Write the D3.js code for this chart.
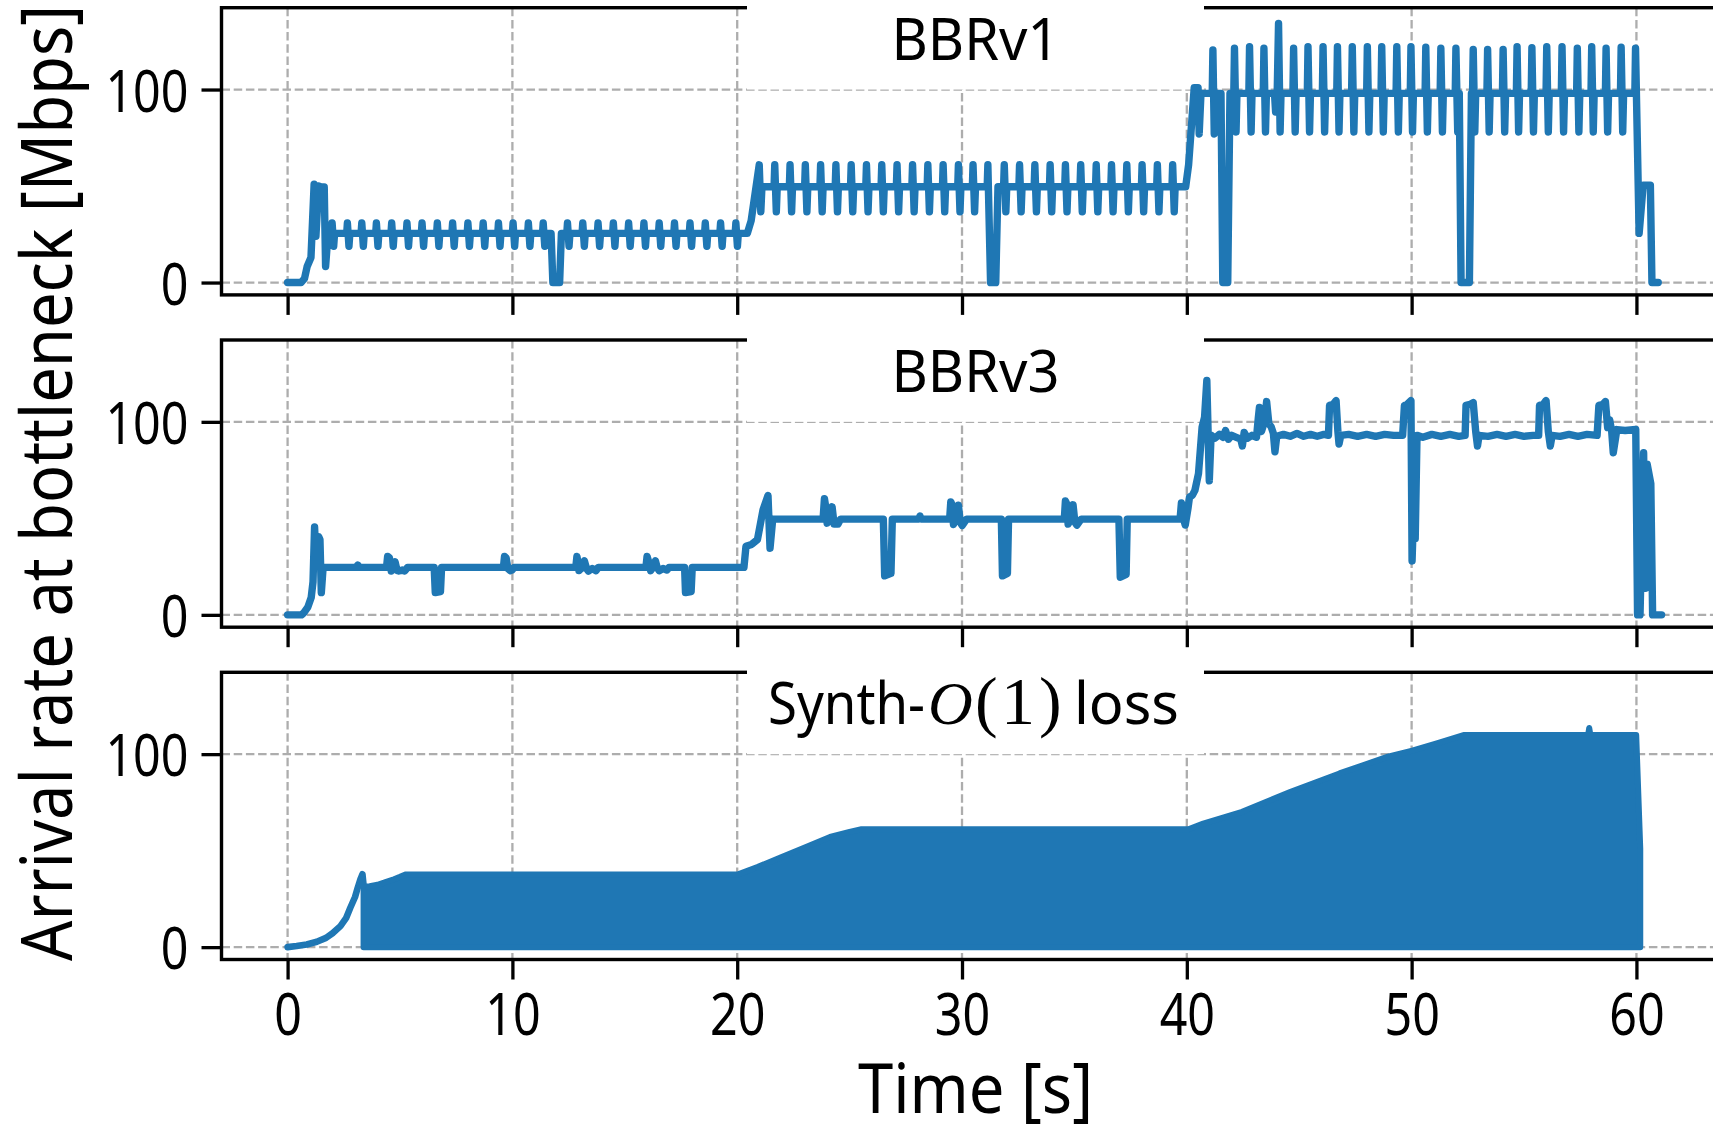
<!DOCTYPE html>
<html>
<head>
<meta charset="utf-8">
<script src="https://cdn.jsdelivr.net/npm/d3@7"></script>
<style>
  html, body { margin: 0; padding: 0; background: #fff; }
  svg { display: block; }
  text { font-family: "Noto Sans", "DejaVu Sans", sans-serif; fill: #000; }
</style>
</head>
<body>
<svg id="chart" width="1713" height="1132"></svg>
<script>
// ---------- data: arrival rate at the bottleneck, [time s, rate Mbps] ----------

const bbrv1 = [
  [0,0],[0.6,0],[0.75,2],[0.87,8.3],[1.04,13],[1.18,51],[1.26,24],[1.38,50],[1.5,49.5],[1.63,49.5],[1.69,8.3],[1.8,25.5],
  [1.95,25.5],[1.98,30.9],[2.05,18.8],[2.09,25.5],
  [2.63,25.5],[2.66,30.9],[2.73,18.8],[2.77,25.5],
  [3.27,25.5],[3.30,30.9],[3.37,18.8],[3.41,25.5],
  [3.92,25.5],[3.95,30.9],[4.02,18.8],[4.06,25.5],
  [4.60,25.5],[4.63,30.9],[4.70,18.8],[4.74,25.5],
  [5.28,25.5],[5.31,30.9],[5.38,18.8],[5.42,25.5],
  [5.95,25.5],[5.98,30.9],[6.05,18.8],[6.09,25.5],
  [6.63,25.5],[6.66,30.9],[6.73,18.8],[6.77,25.5],
  [7.31,25.5],[7.34,30.9],[7.41,18.8],[7.45,25.5],
  [7.99,25.5],[8.02,30.9],[8.09,18.8],[8.13,25.5],
  [8.67,25.5],[8.70,30.9],[8.77,18.8],[8.81,25.5],
  [9.35,25.5],[9.38,30.9],[9.45,18.8],[9.49,25.5],
  [10.00,25.5],[10.03,30.9],[10.10,18.8],[10.14,25.5],
  [10.68,25.5],[10.71,30.9],[10.78,18.8],[10.82,25.5],
  [11.34,25.5],[11.37,30.9],[11.44,18.8],[11.48,25.5],
  [11.72,25.5],[11.80,0],[12.10,0],[12.18,25.5],
  [12.42,25.5],[12.45,30.9],[12.52,18.8],[12.56,25.5],
  [13.10,25.5],[13.13,30.9],[13.20,18.8],[13.24,25.5],
  [13.78,25.5],[13.81,30.9],[13.88,18.8],[13.92,25.5],
  [14.46,25.5],[14.49,30.9],[14.56,18.8],[14.60,25.5],
  [15.14,25.5],[15.17,30.9],[15.24,18.8],[15.28,25.5],
  [15.82,25.5],[15.85,30.9],[15.92,18.8],[15.96,25.5],
  [16.50,25.5],[16.53,30.9],[16.60,18.8],[16.64,25.5],
  [17.18,25.5],[17.21,30.9],[17.28,18.8],[17.32,25.5],
  [17.87,25.5],[17.90,30.9],[17.97,18.8],[18.01,25.5],
  [18.55,25.5],[18.58,30.9],[18.65,18.8],[18.69,25.5],
  [19.23,25.5],[19.26,30.9],[19.33,18.8],[19.37,25.5],
  [19.91,25.5],[19.94,30.9],[20.01,18.8],[20.05,25.5],
  [20.45,25.5],[20.62,32],[20.98,61],[21.05,36.6],[21.10,49.6],
  [21.64,49.6],[21.67,61],[21.74,36.6],[21.78,49.6],
  [22.32,49.6],[22.35,61],[22.42,36.6],[22.46,49.6],
  [23.00,49.6],[23.03,61],[23.10,36.6],[23.14,49.6],
  [23.68,49.6],[23.71,61],[23.78,36.6],[23.82,49.6],
  [24.36,49.6],[24.39,61],[24.46,36.6],[24.50,49.6],
  [25.04,49.6],[25.07,61],[25.14,36.6],[25.18,49.6],
  [25.72,49.6],[25.75,61],[25.82,36.6],[25.86,49.6],
  [26.40,49.6],[26.43,61],[26.50,36.6],[26.54,49.6],
  [27.08,49.6],[27.11,61],[27.18,36.6],[27.22,49.6],
  [27.77,49.6],[27.80,61],[27.87,36.6],[27.91,49.6],
  [28.45,49.6],[28.48,61],[28.55,36.6],[28.59,49.6],
  [29.13,49.6],[29.16,61],[29.23,36.6],[29.27,49.6],
  [29.81,49.6],[29.84,61],[29.91,36.6],[29.95,49.6],
  [30.46,49.6],[30.49,61],[30.56,36.6],[30.60,49.6],
  [31.12,49.6],[31.15,61],[31.27,0],[31.50,0],[31.60,49.6],
  [31.85,49.6],[31.88,61],[31.95,36.6],[31.99,49.6],
  [32.53,49.6],[32.56,61],[32.63,36.6],[32.67,49.6],
  [33.21,49.6],[33.24,61],[33.31,36.6],[33.35,49.6],
  [33.89,49.6],[33.92,61],[33.99,36.6],[34.03,49.6],
  [34.57,49.6],[34.60,61],[34.67,36.6],[34.71,49.6],
  [35.25,49.6],[35.28,61],[35.35,36.6],[35.39,49.6],
  [35.94,49.6],[35.97,61],[36.04,36.6],[36.08,49.6],
  [36.62,49.6],[36.65,61],[36.72,36.6],[36.76,49.6],
  [37.30,49.6],[37.33,61],[37.40,36.6],[37.44,49.6],
  [37.98,49.6],[38.01,61],[38.08,36.6],[38.12,49.6],
  [38.66,49.6],[38.69,61],[38.76,36.6],[38.80,49.6],
  [39.34,49.6],[39.37,61],[39.44,36.6],[39.48,49.6],
  [39.95,49.6],[40.08,61],[40.33,101],[40.50,101],[40.55,77],[40.63,98],
  [41.13,98],[41.16,120.5],[41.22,77],[41.30,98],[41.52,98],[41.60,0],[41.82,0],[41.92,98],
  [42.09,98],[42.12,121.4],[42.19,78],[42.23,98],
  [42.76,98],[42.79,122.2],[42.86,78],[42.90,98],
  [43.40,98],[43.43,121.4],[43.50,78],[43.54,98],
  [43.90,98],[43.95,88.3],[44.02,98],[44.08,134.3],[44.15,78],[44.19,98],
  [44.72,98],[44.75,121.4],[44.82,78],[44.86,98],
  [45.36,98],[45.39,122.2],[45.46,78],[45.50,98],
  [46.03,98],[46.06,122.2],[46.13,78],[46.17,98],
  [46.67,98],[46.70,122.2],[46.77,78],[46.81,98],
  [47.33,98],[47.36,122.2],[47.43,78],[47.47,98],
  [48.00,98],[48.03,122.2],[48.10,78],[48.14,98],
  [48.64,98],[48.67,122.2],[48.74,78],[48.78,98],
  [49.31,98],[49.34,122.2],[49.41,78],[49.45,98],
  [49.94,98],[49.97,122.2],[50.04,78],[50.08,98],
  [50.60,98],[50.63,121.9],[50.70,78],[50.74,98],
  [51.27,98],[51.30,121.4],[51.37,78],[51.41,98],
  [51.94,98],[51.97,121.4],[52.05,78],[52.12,98],[52.20,0],[52.57,0],[52.66,98],
  [52.71,98],[52.74,120.8],[52.81,78],[52.85,98],
  [53.35,98],[53.38,120.8],[53.45,78],[53.49,98],
  [54.04,98],[54.07,120.8],[54.14,78],[54.18,98],
  [54.66,98],[54.69,122.2],[54.76,78],[54.80,98],
  [55.32,98],[55.35,121.7],[55.42,78],[55.46,98],
  [55.98,98],[56.01,122.2],[56.08,78],[56.12,98],
  [56.66,98],[56.69,122.2],[56.76,78],[56.80,98],
  [57.34,98],[57.37,121.4],[57.44,78],[57.48,98],
  [57.98,98],[58.01,122.2],[58.08,78],[58.12,98],
  [58.62,98],[58.65,121.4],[58.72,78],[58.76,98],
  [59.29,98],[59.32,121.9],[59.39,78],[59.43,98],
  [59.93,98],[59.96,121.4],[60.12,25.5],[60.30,50.4],[60.62,50.4],[60.69,0],[60.97,0]
];

const bbrv3 = [
  [0,0],[0.62,0],[0.72,1],[0.9,4],[1.05,9],[1.13,17],[1.2,45.5],[1.27,27],[1.31,26],[1.38,40.5],[1.44,39],[1.5,11.5],[1.58,24.6],
  [3.05,24.6],[3.12,25.8],[3.2,24.6],
  [4.4,24.6],[4.45,30.3],[4.53,29.5],[4.61,22.7],[4.7,24.5],[4.78,27.5],[4.87,23],[4.95,22.7],[5.1,23.2],[5.21,22.7],[5.34,24.6],
  [6.52,24.6],[6.57,11.5],[6.8,12],[6.85,24.6],
  [9.6,24.6],[9.65,30.3],[9.72,29.5],[9.8,24],[9.9,22.9],[9.98,23.2],[10.08,24.6],
  [12.82,24.6],[12.87,30.3],[12.92,27],[12.96,22.9],[13.1,24.6],[13.2,28],[13.3,24],[13.38,22.7],[13.55,24],[13.72,22.9],[13.82,24.6],
  [15.94,24.6],[15.99,30.3],[16.05,28],[16.15,22.9],[16.28,25],[16.36,28],[16.44,24.5],[16.53,22.9],[16.7,24],[16.87,23.2],[16.97,24.6],
  [17.66,24.6],[17.7,11.5],[17.95,12],[18.0,24.6],
  [20.3,24.6],[20.39,35.5],[20.64,36.5],[20.9,39],[21.15,54.5],[21.37,61.8],[21.46,34.5],[21.58,49.6],
  [23.82,49.6],[23.88,60.2],[23.95,55],[24.0,47.5],[24.12,50],[24.22,56],[24.31,47],[24.48,47],[24.6,49.6],
  [26.5,49.6],[26.56,20.2],[26.84,21.5],[26.9,49.6],
  [28.08,49.6],[28.13,51.2],[28.18,49.6],
  [29.45,49.6],[29.5,58.5],[29.56,57],[29.62,46.8],[29.75,50],[29.84,56.8],[29.92,48],[30.01,46.3],[30.2,49.6],
  [31.75,49.6],[31.8,20.2],[32.02,21.5],[32.07,49.6],
  [34.55,49.6],[34.6,59],[34.66,57.5],[34.72,47],[34.85,50],[34.94,57],[35.02,48],[35.11,46.5],[35.3,49.6],
  [36.98,49.6],[37.04,19.5],[37.3,21],[37.35,49.6],
  [39.7,49.6],[39.76,58],[39.85,50],[39.93,46.5],[40.05,55],[40.12,61],[40.25,62],[40.36,64.5],[40.52,73.2],[40.68,97.3],[40.79,102.5],[40.89,121.4],[41.0,69.4],[41.08,93.1],
  [41.25,91.5],[41.45,93.5],[41.6,92],[41.72,95.5],[41.85,91],[42.0,93],[42.2,92],[42.4,91],[42.47,87.5],[42.55,94.5],[42.7,91.5],[42.9,93],[43.1,92],
  [43.18,102],[43.23,107.5],[43.32,95],[43.45,100],[43.55,110.5],[43.65,99],[43.75,97.5],[43.85,94],[43.92,84.5],[44.0,92.5],
  [44.3,93.5],[44.6,92.5],[44.9,94],[45.2,92.5],[45.5,93.5],[45.8,92.5],[46.1,93.5],[46.3,93],
  [46.35,108.5],[46.5,109],[46.64,111],[46.72,95],[46.77,88.5],[46.85,93],
  [47.2,93.5],[47.6,92.5],[48.0,93.5],[48.4,92.5],[48.8,93.5],[49.2,93],[49.6,93],
  [49.68,108.5],[49.8,109],[49.97,111],[50.02,27.9],[50.1,58],[50.16,39.5],[50.24,93],
  [50.5,92],[50.9,93.5],[51.3,92.5],[51.7,93.5],[52.1,92.5],[52.38,93],
  [52.42,108.5],[52.6,109],[52.74,110],[52.85,95],[52.93,87.5],[53.0,93],
  [53.4,92.5],[53.8,93.5],[54.2,92.5],[54.6,93.5],[55.0,92.5],[55.4,93],[55.65,93],
  [55.69,108.5],[55.85,109],[55.98,111],[56.08,95],[56.17,87.5],[56.25,93],
  [56.6,92.5],[57.0,93.5],[57.4,92.5],[57.8,93.5],[58.25,93],
  [58.33,108.5],[58.5,109],[58.62,110.5],[58.72,97],[58.81,101],[58.9,95],[58.97,84],[59.05,90],[59.13,96],
  [59.5,95.5],[59.97,96],[60.05,0],[60.16,0],[60.32,84],[60.4,13.8],[60.48,78],[60.64,67.9],[60.72,0],[61.12,0]
];

// Synth-O(1)loss: slow-start ramp, then on/off sending between 0 and the peak rate
const synthRamp = [
  [0,0],[0.4,0.6],[0.85,1.4],[1.3,2.8],[1.71,4.8],[2.0,7.2],[2.35,10.9],[2.6,15],[2.79,20.4],[3.0,26],[3.12,30.8],[3.25,35.5],[3.33,37.8],[3.38,32]
];
const synthPeak = [
  [3.38,31.4],[3.65,31.6],[4.0,32.3],[4.29,33.4],[4.73,35.2],[5.0,36.4],[5.27,37.7],
  [20.04,37.7],[20.9,41.5],[21.98,46.7],[23.06,51.9],[24.13,57.1],[25.0,59.7],[25.53,61.1],
  [40.07,61.1],[40.73,64],[42.46,70.1],[44.62,80.5],[46.79,90],[48.95,98.7],[50.03,101.8],[51.12,105.6],[52.31,109.9],
  [57.85,109.9],[57.9,113.5],[57.95,109.9],[59.99,109.9],[60.17,51]
];
const synthFloor = 0;

const panelNames = ["BBRv1", "BBRv3", "Synth-O(1)loss"];
const xTicks = [0, 10, 20, 30, 40, 50, 60];
const yTicks = [0, 100];
const xDomain = [-2.94, 64.06];
const yDomain = [-6.4, 142.4];
const xLabel = "Time [s]";
const yLabel = "Arrival rate at bottleneck [Mbps]";

// ---------- layout ----------
const svg = d3.select("#chart");
const plotLeft = 221.5, plotRight = 1727.7;
const panelTop0 = 7.7, panelStep = 332.3, panelH = 287.2;
const blue = "#1f77b4";
const gridColor = "#adadad";
const tickFont = 59;
const lineW = 7.4;

const x = d3.scaleLinear().domain(xDomain).range([plotLeft, plotRight]);

const lineGen = (y) => d3.line().x(d => x(d[0])).y(d => y(d[1]));
const serif = "'Liberation Serif', 'DejaVu Serif', serif";

panelNames.forEach((name, i) => {
  const top = panelTop0 + i * panelStep;
  const bottom = top + panelH;
  const y = d3.scaleLinear().domain(yDomain).range([bottom, top]);
  const g = svg.append("g");

  g.append("clipPath").attr("id", "clip" + i)
    .append("rect").attr("x", plotLeft).attr("y", top)
    .attr("width", plotRight - plotLeft).attr("height", panelH);

  // dashed grid
  const grid = g.append("g").attr("stroke", gridColor).attr("stroke-width", 2.3)
    .attr("stroke-dasharray", "8.5,3.7");
  grid.selectAll("line.gx").data(xTicks).join("line").attr("class", "gx")
    .attr("x1", d => x(d)).attr("x2", d => x(d)).attr("y1", top).attr("y2", bottom);
  grid.selectAll("line.gy").data(yTicks).join("line").attr("class", "gy")
    .attr("x1", plotLeft).attr("x2", plotRight).attr("y1", d => y(d)).attr("y2", d => y(d));

  // frame
  g.append("rect").attr("x", plotLeft).attr("y", top)
    .attr("width", plotRight - plotLeft).attr("height", panelH)
    .attr("fill", "none").attr("stroke", "#000").attr("stroke-width", 3.4);

  // white box behind the panel name
  g.append("rect").attr("x", 747).attr("y", top - 8)
    .attr("width", 457).attr("height", y(100) - (top - 8))
    .attr("fill", "#fff");

  // series
  const plot = g.append("g").attr("clip-path", `url(#clip${i})`);
  if (i === 0 || i === 1) {
    plot.append("path").datum(i === 0 ? bbrv1 : bbrv3)
      .attr("d", lineGen(y))
      .attr("fill", "none").attr("stroke", blue).attr("stroke-width", lineW)
      .attr("stroke-linejoin", "round").attr("stroke-linecap", "round");
  } else {
    const band = d3.area().x(d => x(d[0])).y0(y(synthFloor)).y1(d => y(d[1]));
    plot.append("path").datum(synthPeak)
      .attr("d", band)
      .attr("fill", blue).attr("stroke", blue).attr("stroke-width", lineW - 1.4)
      .attr("stroke-linejoin", "round");
    plot.append("path").datum(synthRamp)
      .attr("d", lineGen(y))
      .attr("fill", "none").attr("stroke", blue).attr("stroke-width", lineW - 0.8)
      .attr("stroke-linejoin", "round").attr("stroke-linecap", "round");
  }

  // x ticks (labels only on the bottom panel)
  const ax = g.append("g").attr("transform", `translate(0,${bottom})`)
    .call(d3.axisBottom(x).tickValues(xTicks).tickSize(20).tickPadding(13.5)
      .tickFormat(d3.format("d")));
  ax.select(".domain").remove();
  ax.selectAll(".tick line").attr("stroke", "#000").attr("stroke-width", 3.3);
  if (i === 2) {
    ax.selectAll(".tick text")
      .attr("font-size", tickFont)
      .attr("textLength", d => 27.7 * String(d).length)
      .attr("lengthAdjust", "spacingAndGlyphs");
  } else {
    ax.selectAll(".tick text").remove();
  }

  // y ticks
  const ay = g.append("g").attr("transform", `translate(${plotLeft},0)`)
    .call(d3.axisLeft(y).tickValues(yTicks).tickSize(20).tickPadding(13));
  ay.select(".domain").remove();
  ay.selectAll(".tick line").attr("stroke", "#000").attr("stroke-width", 3.3);
  ay.selectAll(".tick text")
    .attr("font-size", tickFont)
    .attr("dy", "0.37em")
    .attr("textLength", d => 27.7 * String(d).length)
    .attr("lengthAdjust", "spacingAndGlyphs");

  // panel name
  const ty = top + 52;
  if (i < 2) {
    g.append("text").attr("x", 975.5).attr("y", ty)
      .attr("text-anchor", "middle").attr("font-size", 59)
      .attr("textLength", 168).attr("lengthAdjust", "spacingAndGlyphs")
      .text(name);
  } else {
    // "Synth-" + math O(1) + "loss", laid out piece by piece
    const t = g.append("text").attr("y", ty).attr("font-size", 59);
    t.append("tspan").attr("x", 768).attr("textLength", 157)
      .attr("lengthAdjust", "spacingAndGlyphs").text("Synth-");
    t.append("tspan").attr("x", 928)
      .style("font-family", serif).style("font-style", "italic")
      .attr("font-size", 62).text("O");
    t.append("tspan").attr("x", 975)
      .style("font-family", serif).attr("font-size", 68).text("(");
    t.append("tspan").attr("x", 1001)
      .style("font-family", serif).attr("font-size", 68).text("1");
    t.append("tspan").attr("x", 1039)
      .style("font-family", serif).attr("font-size", 68).text(")");
    t.append("tspan").attr("x", 1074).attr("textLength", 105)
      .attr("lengthAdjust", "spacingAndGlyphs").text("loss");
  }
});

// axis titles
svg.append("text").attr("x", 975.5).attr("y", 1113)
  .attr("text-anchor", "middle").attr("font-size", 70)
  .attr("textLength", 235).attr("lengthAdjust", "spacingAndGlyphs")
  .text(xLabel);

svg.append("text").attr("transform", "translate(72,483) rotate(-90)")
  .attr("text-anchor", "middle").attr("font-size", 72)
  .attr("textLength", 956).attr("lengthAdjust", "spacingAndGlyphs")
  .text(yLabel);
</script>
</body>
</html>
